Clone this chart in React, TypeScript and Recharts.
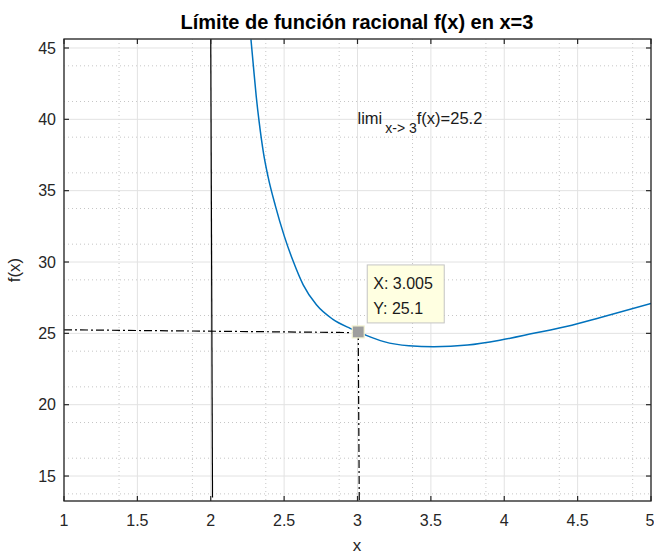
import React from 'react';
import {
  ComposedChart, Line, XAxis, YAxis, CartesianGrid, ReferenceLine, ReferenceDot
} from 'recharts';

// f(x) sampled along the plotted branch (right of the asymptote)
const curveX = [2.274, 2.29, 2.31, 2.33, 2.36, 2.39, 2.44, 2.5, 2.56, 2.63, 2.72, 2.83, 2.95, 3.005, 3.06, 3.18, 3.35, 3.52, 3.75, 3.97, 4.2, 4.43, 4.65, 5.0];
const curveY = [45.6, 43.8, 41.6, 39.8, 37.6, 36.0, 33.95, 31.85, 30.1, 28.4, 27.0, 26.0, 25.35, 25.1, 24.86, 24.42, 24.13, 24.06, 24.18, 24.52, 25.0, 25.5, 26.1, 27.1];

const xTicks = [1, 1.5, 2, 2.5, 3, 3.5, 4, 4.5, 5];
const yTicks = [15, 20, 25, 30, 35, 40, 45];
const xDomain = [1, 5];
const yDomain = [13.25, 45.63];

// data tip and limit annotation
const tipX = 3.005;
const tipY = 25.1;
const limitValue = 25.2;
const asymptoteX = 2;

const curve = curveX.map((x, i) => ({ x, y: curveY[i] }));

// minor grid: 4 divisions per major step
const xMinor = Array.from({ length: 33 }, (_, i) => 1 + i * 0.125).filter((v) => v % 0.5 !== 0);
const yMinor = Array.from({ length: 27 }, (_, i) => 13.75 + i * 1.25).filter((v) => v % 5 !== 0 && v < yDomain[1]);

const W = 654;
const H = 554;
const MARGIN = { top: 39, right: 3, bottom: 0, left: 0 };
const X_AXIS_H = 53;
const Y_AXIS_W = 64;
const PLOT_LEFT = MARGIN.left + Y_AXIS_W;
const PLOT_RIGHT = W - MARGIN.right;
const PLOT_TOP = MARGIN.top;
const PLOT_BOTTOM = H - MARGIN.bottom - X_AXIS_H;
const TICK_LEN = 5;

const FONT = '"Liberation Sans", Arial, Helvetica, sans-serif';
const AXIS = '#262626';

// box ticks sit above the grid, so they live in the overlay layer
const tickPx = (v: number) => PLOT_LEFT + ((v - xDomain[0]) / (xDomain[1] - xDomain[0])) * (PLOT_RIGHT - PLOT_LEFT);
const tickPy = (v: number) => PLOT_BOTTOM - ((v - yDomain[0]) / (yDomain[1] - yDomain[0])) * (PLOT_BOTTOM - PLOT_TOP);

const XTick = (props: any) => {
  const { x, payload } = props;
  return (
    <text x={x} y={PLOT_BOTTOM + 14} dy="0.71em" textAnchor="middle" fontSize={16} fontFamily={FONT} fill={AXIS}>
      {payload.value}
    </text>
  );
};

const YTick = (props: any) => {
  const { y, payload } = props;
  return (
    <text x={PLOT_LEFT - 8} y={y} dy="0.36em" textAnchor="end" fontSize={16} fontFamily={FONT} fill={AXIS}>
      {payload.value}
    </text>
  );
};

const DataTip = (props: any) => {
  const { cx, cy } = props;
  return (
    <g>
      <rect x={cx + 9} y={cy - 67} width={77} height={58} fill="#ffffe1" stroke="#c4c4c4" strokeWidth={1} />
      <text x={cx + 15} y={cy - 43} fontSize={16} fontFamily={FONT} fill="#1a1a1a">X: {tipX.toFixed(3)}</text>
      <text x={cx + 15} y={cy - 18} fontSize={16} fontFamily={FONT} fill="#1a1a1a">Y: {tipY.toFixed(1)}</text>
      <rect x={cx - 6} y={cy - 6} width={12} height={12} fill="#9e9e9e" stroke="#f3f3d2" strokeWidth={1.2} />
    </g>
  );
};

const LimitText = (props: any) => {
  const { cx, cy } = props;
  return (
    <text x={cx} y={cy + 5} fontSize={16.5} fontFamily={FONT} fill="#1a1a1a">
      limi
      <tspan dx={3} dy={9} fontSize={14}>x-&gt; 3</tspan>
      <tspan dy={-9} fontSize={16.5}>f(x)={limitValue}</tspan>
    </text>
  );
};

export default function App() {
  return (
    <div style={{ position: 'absolute', left: 0, top: 0, width: W, height: H, background: '#fff' }}>
      <ComposedChart width={W} height={H} margin={MARGIN}>
        <CartesianGrid verticalValues={xMinor} horizontalValues={yMinor} stroke="#c6c6c6" strokeDasharray="1 3" />
        <CartesianGrid stroke="#e2e2e2" />
        <XAxis
          dataKey="x" type="number" domain={xDomain} ticks={xTicks} allowDataOverflow
          height={X_AXIS_H} axisLine={false} tickLine={false} tick={XTick}
        />
        <YAxis
          type="number" domain={yDomain} ticks={yTicks} allowDataOverflow
          width={Y_AXIS_W} axisLine={false} tickLine={false} tick={YTick}
        />
        <ReferenceLine
          segment={[{ x: asymptoteX, y: yDomain[1] }, { x: 2.012, y: 13.5 }]}
          stroke="#000" strokeWidth={1.2}
        />
        <ReferenceLine
          segment={[{ x: xDomain[0], y: 25.25 }, { x: tipX, y: 25.05 }]}
          stroke="#000" strokeWidth={1.2} strokeDasharray="8 3 2 3"
        />
        <ReferenceLine
          segment={[{ x: tipX, y: tipY }, { x: 3.012, y: yDomain[0] }]}
          stroke="#000" strokeWidth={1.2} strokeDasharray="8 3 2 3"
        />
        <Line
          data={curve} dataKey="y" type="monotone" stroke="#0072BD" strokeWidth={1.5}
          dot={false} activeDot={false} isAnimationActive={false}
        />
        <ReferenceDot x={3} y={40} shape={LimitText} />
        <ReferenceDot x={tipX} y={tipY} shape={DataTip} />
      </ComposedChart>
      <svg width={W} height={H} style={{ position: 'absolute', left: 0, top: 0, pointerEvents: 'none' }}>
        <rect
          x={PLOT_LEFT} y={PLOT_TOP} width={PLOT_RIGHT - PLOT_LEFT} height={PLOT_BOTTOM - PLOT_TOP}
          fill="none" stroke={AXIS} strokeWidth={1.3}
        />
        {xTicks.map((v) => (
          <g key={`xt-${v}`}>
            <line x1={tickPx(v)} x2={tickPx(v)} y1={PLOT_BOTTOM} y2={PLOT_BOTTOM - TICK_LEN} stroke={AXIS} strokeWidth={1.2} />
            <line x1={tickPx(v)} x2={tickPx(v)} y1={PLOT_TOP} y2={PLOT_TOP + TICK_LEN} stroke={AXIS} strokeWidth={1.2} />
          </g>
        ))}
        {yTicks.map((v) => (
          <g key={`yt-${v}`}>
            <line x1={PLOT_LEFT} x2={PLOT_LEFT + TICK_LEN} y1={tickPy(v)} y2={tickPy(v)} stroke={AXIS} strokeWidth={1.2} />
            <line x1={PLOT_RIGHT} x2={PLOT_RIGHT - TICK_LEN} y1={tickPy(v)} y2={tickPy(v)} stroke={AXIS} strokeWidth={1.2} />
          </g>
        ))}
        <text x={357} y={29} textAnchor="middle" fontSize={20} fontWeight="bold" fontFamily={FONT} fill="#000">
          Límite de función racional f(x) en x=3
        </text>
        <text x={357} y={551} textAnchor="middle" fontSize={17} fontFamily={FONT} fill={AXIS}>x</text>
        <text x={20} y={270} textAnchor="middle" fontSize={17} fontFamily={FONT} fill={AXIS} transform="rotate(-90 20 270)">
          f(x)
        </text>
      </svg>
    </div>
  );
}
